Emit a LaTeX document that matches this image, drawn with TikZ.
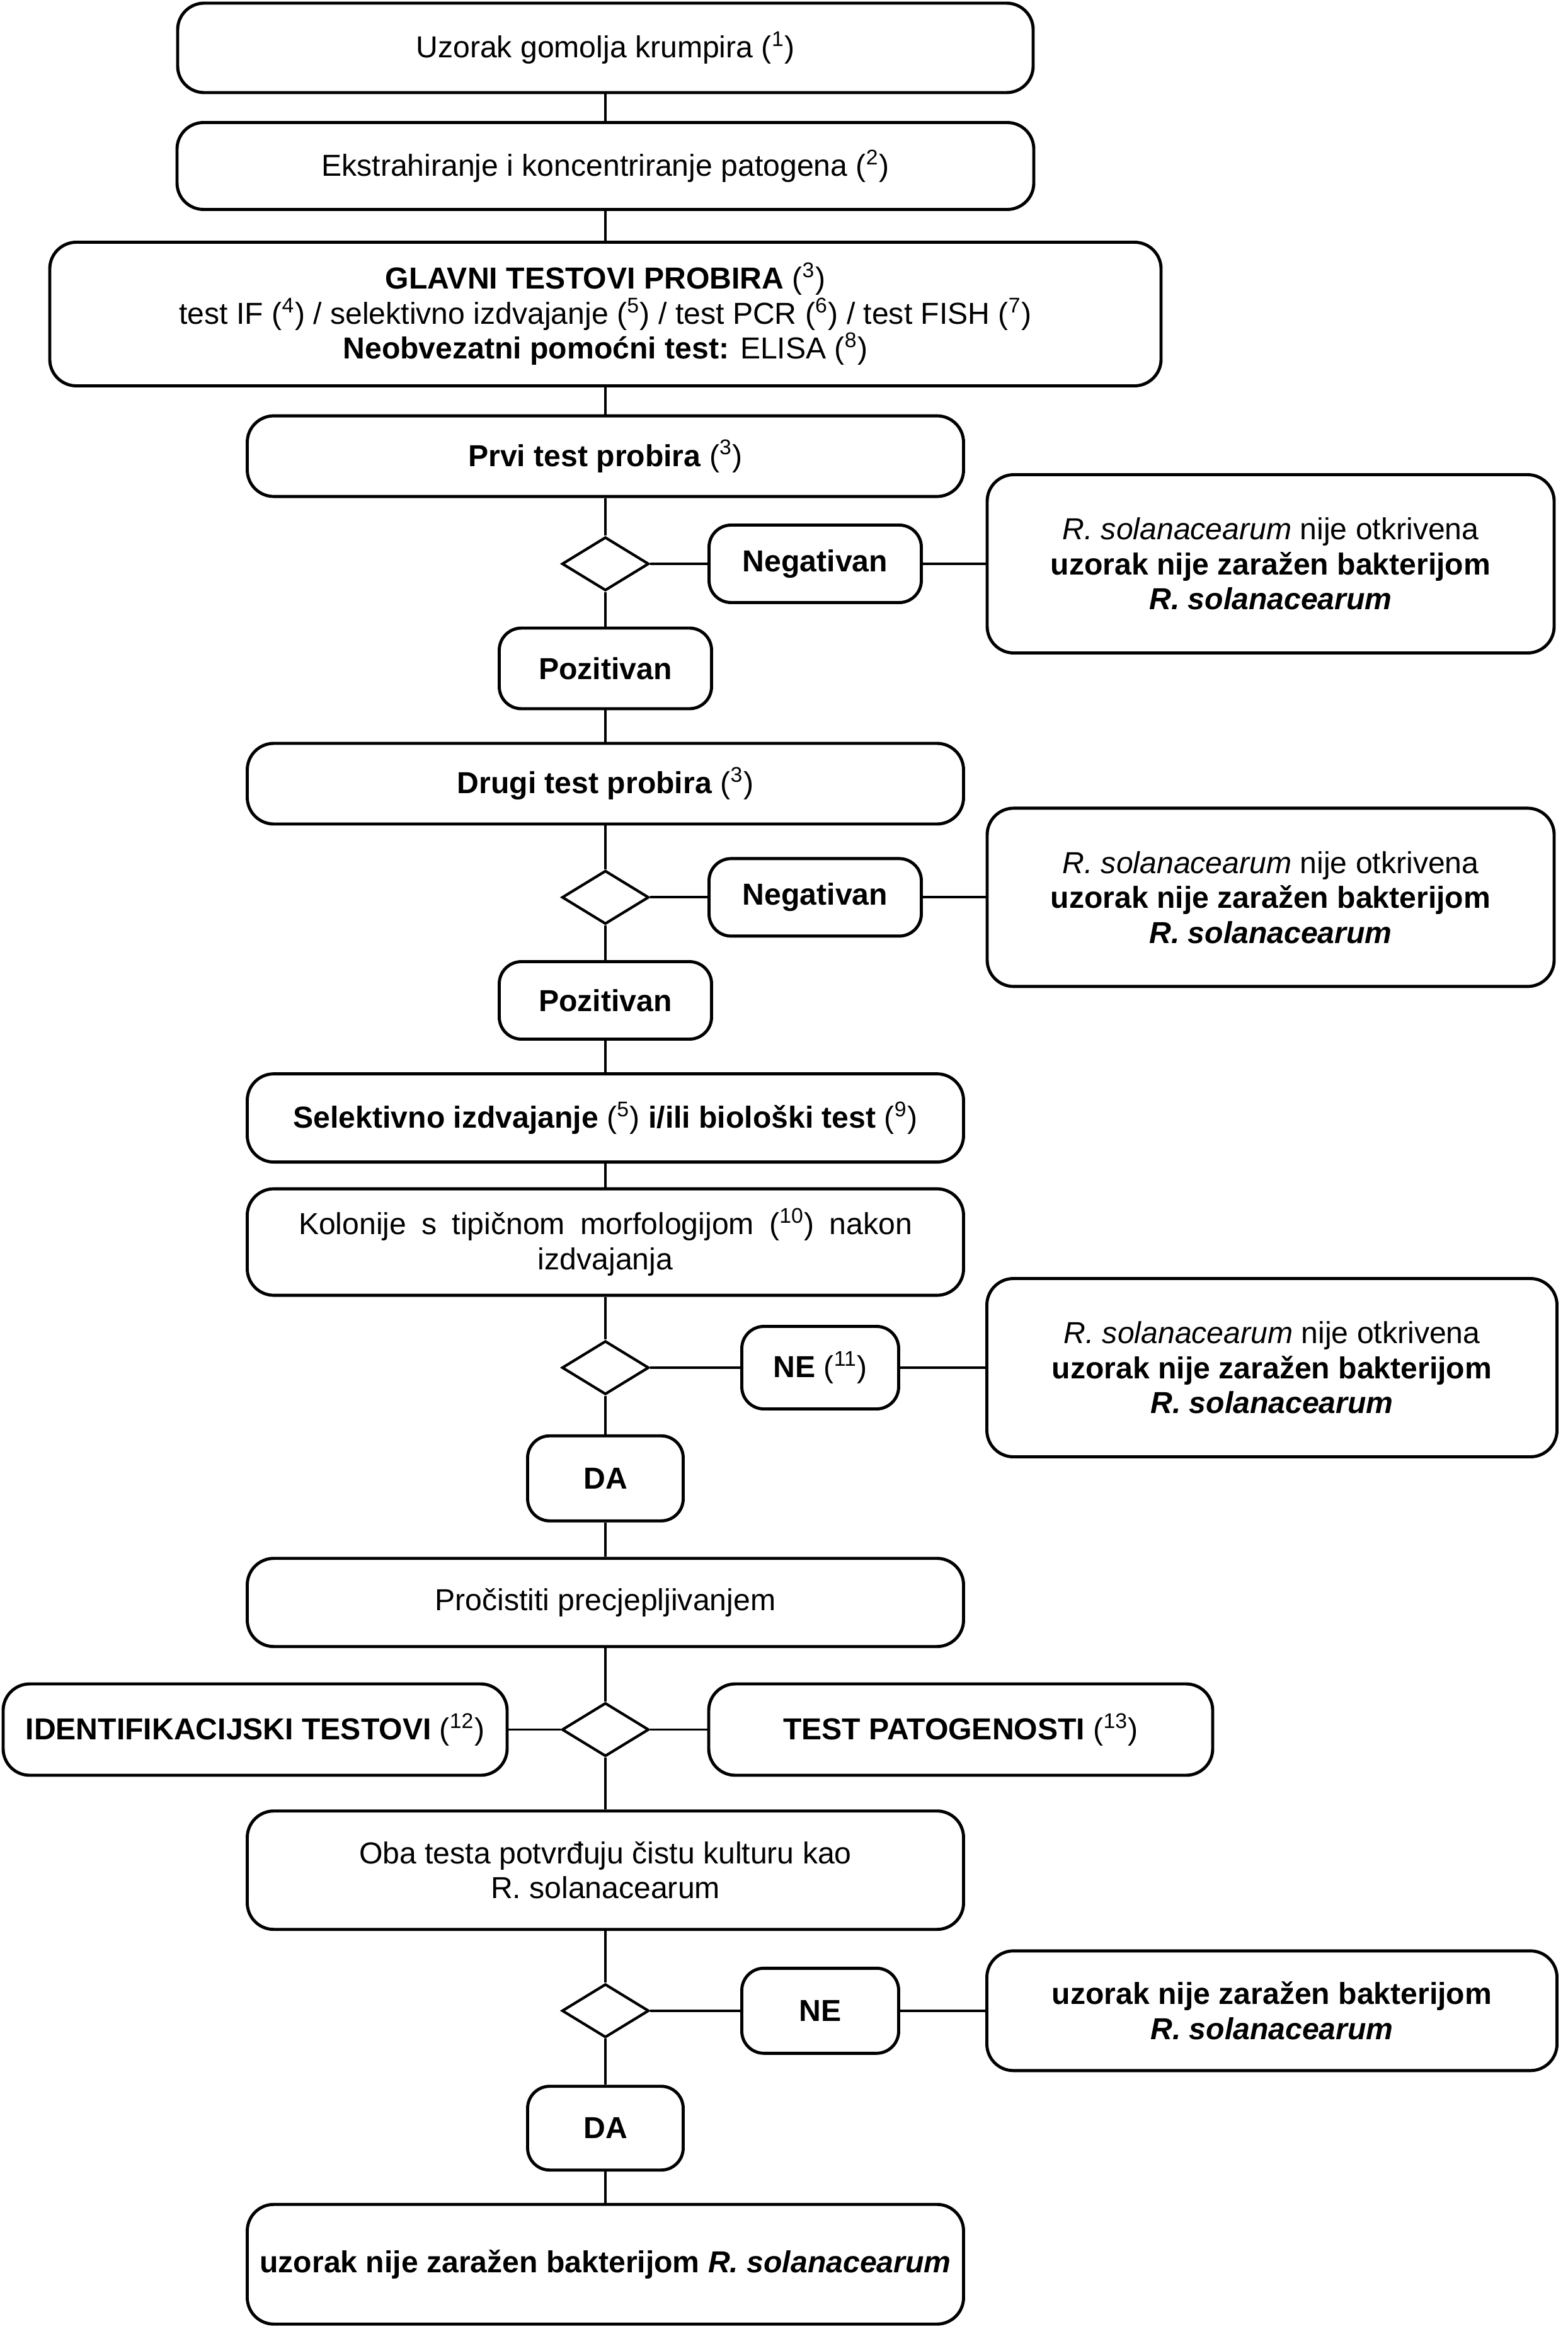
\documentclass[tikz,border=0pt]{standalone}
\usepackage{fontspec}
\setmainfont{Liberation Sans}
\usepackage{tikz}
\usetikzlibrary{shapes.geometric}
\newcommand{\bilj}[1]{{\mdseries\upshape(\textsuperscript{#1})}}

\begin{document}
\begin{tikzpicture}[
    box/.style={draw, line width=1.4pt, rounded corners=12pt, align=center, inner sep=2pt, font=\fontsize{13.7}{15.8}\selectfont},
    odg/.style={box, rounded corners=10pt},
    romb/.style={draw, diamond, line width=1.2pt, minimum width=1.38cm, minimum height=0.85cm, inner sep=0pt},
    veza/.style={line width=1.1pt}]
        %POZADINA
       \fill[white] (0,0) rectangle (24.88,-37.24);
       \useasboundingbox (0,0) rectangle (24.88,-37.24);
        %KOTAK ATAS
       \node[box, minimum width=13.58cm, minimum height=1.42cm] (uzorak) at (9.61,-0.76) {Uzorak gomolja krumpira \bilj{1}};
       \node[box, minimum width=13.60cm, minimum height=1.38cm] (ekstr) at (9.61,-2.635) {Ekstrahiranje i koncentriranje patogena \bilj{2}};
       \node[box, minimum width=17.64cm, minimum height=2.28cm] (glavni) at (9.61,-4.985) {\textbf{GLAVNI TESTOVI PROBIRA} \bilj{3}\\ test IF \bilj{4} / selektivno izdvajanje \bilj{5} / test PCR \bilj{6} / test FISH \bilj{7}\\ \textbf{Neobvezatni pomoćni test:} ELISA \bilj{8}};
        %PRVI TEST
       \node[box, minimum width=11.37cm, minimum height=1.28cm] (prvi) at (9.61,-7.241) {\textbf{Prvi test probira} \bilj{3}};
       \node[romb] (r1) at (9.61,-8.95) {};
       \node[odg, minimum width=3.37cm, minimum height=1.23cm] (neg1) at (12.94,-8.95) {\textbf{Negativan}};
       \node[box, minimum width=9.00cm, minimum height=2.83cm] (nije1) at (20.17,-8.95) {\textit{R. solanacearum} nije otkrivena\\ \textbf{uzorak nije zaražen bakterijom}\\ \textbf{\textit{R. solanacearum}}};
       \node[odg, minimum width=3.37cm, minimum height=1.28cm] (poz1) at (9.61,-10.61) {\textbf{Pozitivan}};
        %DRUGI TEST
       \node[box, minimum width=11.37cm, minimum height=1.28cm] (drugi) at (9.61,-12.44) {\textbf{Drugi test probira} \bilj{3}};
       \node[romb] (r2) at (9.61,-14.244) {};
       \node[odg, minimum width=3.37cm, minimum height=1.23cm] (neg2) at (12.94,-14.244) {\textbf{Negativan}};
       \node[box, minimum width=9.00cm, minimum height=2.83cm] (nije2) at (20.17,-14.244) {\textit{R. solanacearum} nije otkrivena\\ \textbf{uzorak nije zaražen bakterijom}\\ \textbf{\textit{R. solanacearum}}};
       \node[odg, minimum width=3.37cm, minimum height=1.23cm] (poz2) at (9.61,-15.88) {\textbf{Pozitivan}};
        %IZDVAJANJE
       \node[box, minimum width=11.37cm, minimum height=1.40cm] (selek) at (9.61,-17.746) {\textbf{Selektivno izdvajanje} \bilj{5} \textbf{i/ili biološki test} \bilj{9}};
       \node[box, minimum width=11.37cm, minimum height=1.69cm] (kolon) at (9.61,-19.716) {\makebox[9.74cm][s]{Kolonije s tipičnom morfologijom \bilj{10} nakon}\\ izdvajanja};
       \node[romb] (r3) at (9.61,-21.71) {};
       \node[odg, minimum width=2.49cm, minimum height=1.31cm] (ne1) at (13.02,-21.71) {\textbf{NE} \bilj{11}};
       \node[box, minimum width=9.05cm, minimum height=2.83cm] (nije3) at (20.19,-21.71) {\textit{R. solanacearum} nije otkrivena\\ \textbf{uzorak nije zaražen bakterijom}\\ \textbf{\textit{R. solanacearum}}};
       \node[odg, minimum width=2.47cm, minimum height=1.35cm] (da1) at (9.61,-23.467) {\textbf{DA}};
        %PROCISTITI
       \node[box, minimum width=11.37cm, minimum height=1.40cm] (proc) at (9.61,-25.437) {Pročistiti precjepljivanjem};
       \node[romb] (r4) at (9.61,-27.455) {};
       \node[box, minimum width=8.00cm, minimum height=1.45cm] (ident) at (4.05,-27.455) {\textbf{IDENTIFIKACIJSKI TESTOVI} \bilj{12}};
       \node[box, minimum width=8.00cm, minimum height=1.45cm] (pat) at (15.25,-27.455) {\textbf{TEST PATOGENOSTI} \bilj{13}};
        %POTVRDA
       \node[box, minimum width=11.37cm, minimum height=1.88cm] (oba) at (9.61,-29.687) {Oba testa potvrđuju čistu kulturu kao\\ R. solanacearum};
       \node[romb] (r5) at (9.61,-31.918) {};
       \node[odg, minimum width=2.49cm, minimum height=1.35cm] (ne2) at (13.02,-31.918) {\textbf{NE}};
       \node[box, minimum width=9.05cm, minimum height=1.90cm] (nije5) at (20.19,-31.918) {\textbf{uzorak nije zaražen bakterijom}\\ \textbf{\textit{R. solanacearum}}};
       \node[odg, minimum width=2.47cm, minimum height=1.33cm] (da2) at (9.61,-33.782) {\textbf{DA}};
       \node[box, minimum width=11.37cm, minimum height=1.90cm] (kraj) at (9.61,-35.942) {\textbf{uzorak nije zaražen bakterijom \textit{R. solanacearum}}};
        %GARIS TENGAH
       \draw[veza] (uzorak.south) -- (ekstr.north);
       \draw[veza] (ekstr.south) -- (glavni.north);
       \draw[veza] (glavni.south) -- (prvi.north);
       \draw[veza] (prvi.south) -- (r1.north);
       \draw[veza] (r1.south) -- (poz1.north);
       \draw[veza] (poz1.south) -- (drugi.north);
       \draw[veza] (drugi.south) -- (r2.north);
       \draw[veza] (r2.south) -- (poz2.north);
       \draw[veza] (poz2.south) -- (selek.north);
       \draw[veza] (selek.south) -- (kolon.north);
       \draw[veza] (kolon.south) -- (r3.north);
       \draw[veza] (r3.south) -- (da1.north);
       \draw[veza] (da1.south) -- (proc.north);
       \draw[veza] (proc.south) -- (r4.north);
       \draw[veza] (r4.south) -- (oba.north);
       \draw[veza] (oba.south) -- (r5.north);
       \draw[veza] (r5.south) -- (da2.north);
       \draw[veza] (da2.south) -- (kraj.north);
        %GARIS SAMPING
       \draw[veza] (r1.east) -- (neg1.west);
       \draw[veza] (neg1.east) -- (nije1.west);
       \draw[veza] (r2.east) -- (neg2.west);
       \draw[veza] (neg2.east) -- (nije2.west);
       \draw[veza] (r3.east) -- (ne1.west);
       \draw[veza] (ne1.east) -- (nije3.west);
       \draw[veza] (ident.east) -- (r4.west);
       \draw[veza] (r4.east) -- (pat.west);
       \draw[veza] (r5.east) -- (ne2.west);
       \draw[veza] (ne2.east) -- (nije5.west);
    \end{tikzpicture}
\end{document}
